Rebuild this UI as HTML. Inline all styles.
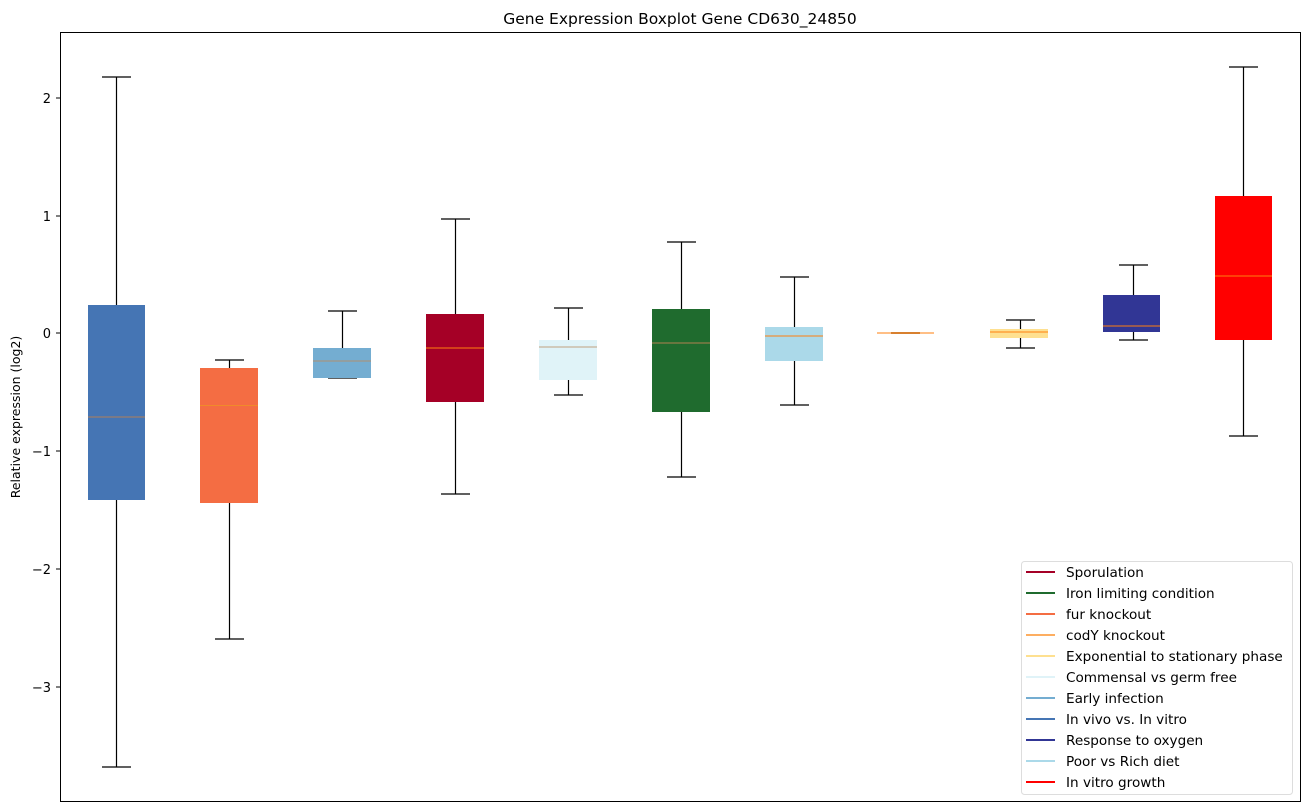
<!DOCTYPE html>
<html><head><meta charset="utf-8"><style>
body{margin:0;background:#fff;}
svg{display:block;font-family:"DejaVu Sans","Liberation Sans",sans-serif;}
</style></head><body>
<svg width="1309" height="812" viewBox="0 0 1309 812" xmlns="http://www.w3.org/2000/svg">
<rect width="1309" height="812" fill="#fff"/>
<text x="680" y="24" font-size="15.5" text-anchor="middle" fill="#000">Gene Expression Boxplot Gene CD630_24850</text>
<text transform="translate(20,417) rotate(-90)" font-size="12.5" text-anchor="middle" fill="#000">Relative expression (log2)</text>
<g font-size="13" text-anchor="end" fill="#000" stroke="none">
<text x="51" y="103">2</text>
<text x="51" y="221">1</text>
<text x="51" y="338">0</text>
<text x="51" y="456">−1</text>
<text x="51" y="574">−2</text>
<text x="51" y="692">−3</text>
</g>
<g stroke="#000" stroke-width="1">
<line x1="56" y1="98" x2="60" y2="98"/><line x1="56" y1="216" x2="60" y2="216"/>
<line x1="56" y1="333" x2="60" y2="333"/><line x1="56" y1="451" x2="60" y2="451"/>
<line x1="56" y1="569" x2="60" y2="569"/><line x1="56" y1="687" x2="60" y2="687"/>
</g>
<g stroke="#000" stroke-width="1.2" fill="none">
<path d="M116.5 77V305M116.5 500V767M102 77H131M102 767H131"/>
<path d="M229.5 360V368M229.5 503V639M215 360H244M215 639H244"/>
<path d="M342.5 311V348M328 311H357M328 378H357"/>
<path d="M455.5 219V314M455.5 402V494M441 219H470M441 494H470"/>
<path d="M568.5 308V340M568.5 380V395M554 308H583M554 395H583"/>
<path d="M681.5 242V309M681.5 412V477M667 242H696M667 477H696"/>
<path d="M794.5 277V327M794.5 361V405M780 277H809M780 405H809"/>
<path d="M1020.5 320V329M1020.5 338V348M1006 320H1035M1006 348H1035"/>
<path d="M1133.5 265V295M1133.5 332V340M1119 265H1148M1119 340H1148"/>
<path d="M1243.5 67V196M1243.5 340V436M1229 67H1258M1229 436H1258"/>
</g>
<g stroke="none">
<rect x="88" y="305" width="57" height="195" fill="#4575b4"/>
<rect x="200" y="368" width="58" height="135" fill="#f46d43"/>
<rect x="313" y="348" width="58" height="30" fill="#74add1"/>
<rect x="426" y="314" width="58" height="88" fill="#a50026"/>
<rect x="539" y="340" width="58" height="40" fill="#e0f3f8"/>
<rect x="652" y="309" width="58" height="103" fill="#1f6b2e"/>
<rect x="765" y="327" width="58" height="34" fill="#abd9e9"/>
<rect x="891" y="332" width="29" height="2" fill="#b08050"/>
<rect x="990" y="329" width="58" height="9" fill="#fee090"/>
<rect x="1103" y="295" width="57" height="37" fill="#313695"/>
<rect x="1215" y="196" width="57" height="144" fill="#ff0000"/>
</g>
<g stroke="#ff7f0e" stroke-width="1">
<line x1="88" y1="417" x2="145" y2="417" stroke="#b07f5a"/>
<line x1="200" y1="405.5" x2="258" y2="405.5" stroke="#f08a2a"/>
<line x1="313" y1="361" x2="371" y2="361" stroke="#b09070"/>
<line x1="426" y1="348" x2="484" y2="348"/>
<line x1="539" y1="347" x2="597" y2="347" stroke="#c0a080"/>
<line x1="652" y1="343" x2="710" y2="343" stroke="#b08050"/>
<line x1="765" y1="336" x2="823" y2="336"/>
<line x1="877" y1="333" x2="934" y2="333"/>
<line x1="990" y1="332" x2="1048" y2="332"/>
<line x1="1103" y1="326" x2="1160" y2="326"/>
<line x1="1215" y1="276" x2="1272" y2="276"/>
</g>
<rect x="60.5" y="32.5" width="1240" height="769" fill="none" stroke="#000" stroke-width="1"/>
<rect x="1021.5" y="561.5" width="271" height="233" rx="3" fill="#fff" fill-opacity="0.8" stroke="#ddd"/>
<g font-size="13.6" fill="#000">
<g stroke-width="2">
<line x1="1026" y1="572" x2="1055" y2="572" stroke="#a50026"/>
<line x1="1026" y1="593" x2="1055" y2="593" stroke="#1f6b2e"/>
<line x1="1026" y1="614" x2="1055" y2="614" stroke="#f46d43"/>
<line x1="1026" y1="635" x2="1055" y2="635" stroke="#fdae61"/>
<line x1="1026" y1="656" x2="1055" y2="656" stroke="#fee090"/>
<line x1="1026" y1="677" x2="1055" y2="677" stroke="#e0f3f8"/>
<line x1="1026" y1="698" x2="1055" y2="698" stroke="#74add1"/>
<line x1="1026" y1="719" x2="1055" y2="719" stroke="#4575b4"/>
<line x1="1026" y1="740" x2="1055" y2="740" stroke="#313695"/>
<line x1="1026" y1="761" x2="1055" y2="761" stroke="#abd9e9"/>
<line x1="1026" y1="782" x2="1055" y2="782" stroke="#ff0000"/>
</g>
<text x="1066" y="577">Sporulation</text>
<text x="1066" y="598">Iron limiting condition</text>
<text x="1066" y="619">fur knockout</text>
<text x="1066" y="640">codY knockout</text>
<text x="1066" y="661">Exponential to stationary phase</text>
<text x="1066" y="682">Commensal vs germ free</text>
<text x="1066" y="703">Early infection</text>
<text x="1066" y="724">In vivo vs. In vitro</text>
<text x="1066" y="745">Response to oxygen</text>
<text x="1066" y="766">Poor vs Rich diet</text>
<text x="1066" y="787">In vitro growth</text>
</g>
</svg>
</body></html>
